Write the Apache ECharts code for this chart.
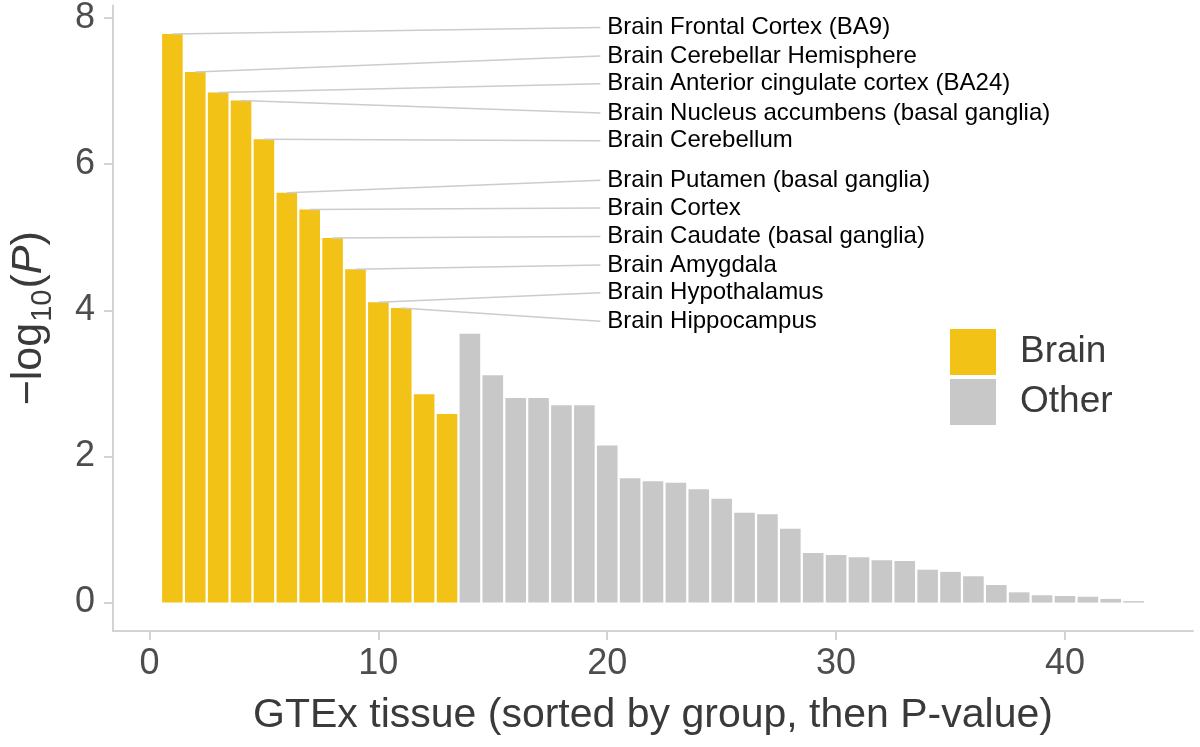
<!DOCTYPE html>
<html>
<head>
<meta charset="utf-8">
<script src="https://cdn.jsdelivr.net/npm/echarts@6/dist/echarts.min.js"></script>
<style>
  html, body { margin: 0; padding: 0; background: #ffffff; }
  #chart { width: 1200px; height: 747px; }
</style>
</head>
<body>
<div id="chart"></div>
<script>
// ---- data ----
const brainNames = [
  'Brain Frontal Cortex (BA9)',
  'Brain Cerebellar Hemisphere',
  'Brain Anterior cingulate cortex (BA24)',
  'Brain Nucleus accumbens (basal ganglia)',
  'Brain Cerebellum',
  'Brain Putamen (basal ganglia)',
  'Brain Cortex',
  'Brain Caudate (basal ganglia)',
  'Brain Amygdala',
  'Brain Hypothalamus',
  'Brain Hippocampus'
];
const brainValues = [7.78, 7.26, 6.98, 6.87, 6.34, 5.61, 5.38, 4.99, 4.56, 4.11, 4.03, 2.85, 2.58];
const otherValues = [3.68, 3.11, 2.80, 2.80, 2.70, 2.70, 2.15, 1.70, 1.66, 1.64, 1.55, 1.42, 1.23, 1.21,
                     1.01, 0.68, 0.65, 0.62, 0.58, 0.57, 0.45, 0.42, 0.36, 0.24, 0.14, 0.10, 0.09, 0.08, 0.05, 0.02];
const xTicks = [0, 10, 20, 30, 40];
const yTicks = [0, 2, 4, 6, 8];

// ---- label layout (repelled label anchor positions, data units) ----
const labelAnchorX = 19.7;
const labelAnchorY = [7.87, 7.48, 7.10, 6.70, 6.32, 5.78, 5.40, 5.01, 4.62, 4.24, 3.85];

const BRAIN_COLOR = '#F3C217';
const OTHER_COLOR = '#C8C8C8';
const BAR_WIDTH = 0.9;

const brainData = brainValues.map((v, i) => [i + 1, v]);
const otherData = otherValues.map((v, i) => [brainValues.length + i + 1, v]);
const labelData = brainNames.map((n, i) => [i + 1, brainValues[i], labelAnchorX, labelAnchorY[i], n]);

function barRenderer(color) {
  return function (params, api) {
    const x = api.value(0), y = api.value(1);
    const p0 = api.coord([x - BAR_WIDTH / 2, y]);
    const p1 = api.coord([x + BAR_WIDTH / 2, 0]);
    return {
      type: 'rect',
      shape: { x: p0[0], y: p0[1], width: p1[0] - p0[0], height: p1[1] - p0[1] },
      style: { fill: color }
    };
  };
}

const chart = echarts.init(document.getElementById('chart'), null, { renderer: 'canvas' });
const axisColor = '#D3D3D3';
const tickTextColor = '#4D4D4D';
const titleColor = '#3A3A3A';
const FONT = '"Liberation Sans", Arial, Helvetica, sans-serif';

chart.setOption({
  animation: false,
  backgroundColor: '#ffffff',
  textStyle: { fontFamily: FONT },
  grid: { left: 113, right: 7, top: 1, bottom: 116, containLabel: false },
  xAxis: {
    type: 'value',
    min: -1.595, max: 45.595,
    splitLine: { show: false },
    axisLine: { show: true, onZero: false, lineStyle: { color: axisColor, width: 2 } },
    axisTick: { show: true, length: 9, customValues: xTicks, lineStyle: { color: axisColor, width: 2 } },
    axisLabel: { customValues: xTicks, color: tickTextColor, fontSize: 36, margin: 15, fontFamily: FONT },
    name: 'GTEx tissue (sorted by group, then P-value)',
    nameLocation: 'middle',
    nameGap: 64,
    nameTextStyle: { color: titleColor, fontSize: 41, fontFamily: FONT }
  },
  yAxis: {
    type: 'value',
    min: -0.389, max: 8.17,
    splitLine: { show: false },
    axisLine: { show: true, onZero: false, lineStyle: { color: axisColor, width: 2 } },
    axisTick: { show: true, length: 9, customValues: yTicks, lineStyle: { color: axisColor, width: 2 } },
    axisLabel: { customValues: yTicks, color: tickTextColor, fontSize: 36, margin: 18, fontFamily: FONT },
    name: '{m|\u2212log}{s|10}{m|(}{i|P}{m|)}',
    nameLocation: 'middle',
    nameRotate: 90,
    nameGap: 62,
    nameTextStyle: {
      color: titleColor, fontSize: 43, fontFamily: FONT,
      rich: {
        m: { fontSize: 43, lineHeight: 43, verticalAlign: 'top', color: titleColor, fontFamily: FONT },
        i: { fontSize: 43, lineHeight: 43, verticalAlign: 'top', fontStyle: 'italic', color: titleColor, fontFamily: FONT },
        s: { fontSize: 29, lineHeight: 29, verticalAlign: 'top', padding: [20, 1, 0, 1], color: titleColor, fontFamily: FONT }
      }
    }
  },
  legend: {
    show: true,
    orient: 'vertical',
    left: 950, top: 329,
    padding: 0,
    itemWidth: 46, itemHeight: 46, itemGap: 4,
    icon: 'rect',
    data: ['Brain', 'Other'],
    textStyle: { color: titleColor, fontSize: 37, fontFamily: FONT, padding: [0, 0, 0, 19] }
  },
  series: [
    {
      name: 'Brain', type: 'custom', data: brainData, clip: false,
      itemStyle: { color: BRAIN_COLOR },
      encode: { x: 0, y: 1 },
      renderItem: barRenderer(BRAIN_COLOR), z: 2
    },
    {
      name: 'Other', type: 'custom', data: otherData, clip: false,
      itemStyle: { color: OTHER_COLOR },
      encode: { x: 0, y: 1 },
      renderItem: barRenderer(OTHER_COLOR), z: 2
    },
    {
      name: 'labels', type: 'custom', data: labelData, clip: false, silent: true,
      encode: { x: [0, 2], y: [1, 3] },
      renderItem: function (params, api) {
        const a = api.coord([api.value(0), api.value(1)]);
        const b = api.coord([api.value(2), api.value(3)]);
        return {
          type: 'group',
          children: [
            { type: 'line', shape: { x1: a[0], y1: a[1], x2: b[0], y2: b[1] },
              style: { stroke: '#CCCCCC', lineWidth: 1.5 } },
            { type: 'text', x: b[0] + 7, y: b[1],
              style: { text: labelData[params.dataIndex][4], fill: '#000000', fontSize: 24,
                       fontFamily: FONT, textAlign: 'left', textVerticalAlign: 'middle' } }
          ]
        };
      },
      z: 3
    }
  ]
});
</script>
</body>
</html>
